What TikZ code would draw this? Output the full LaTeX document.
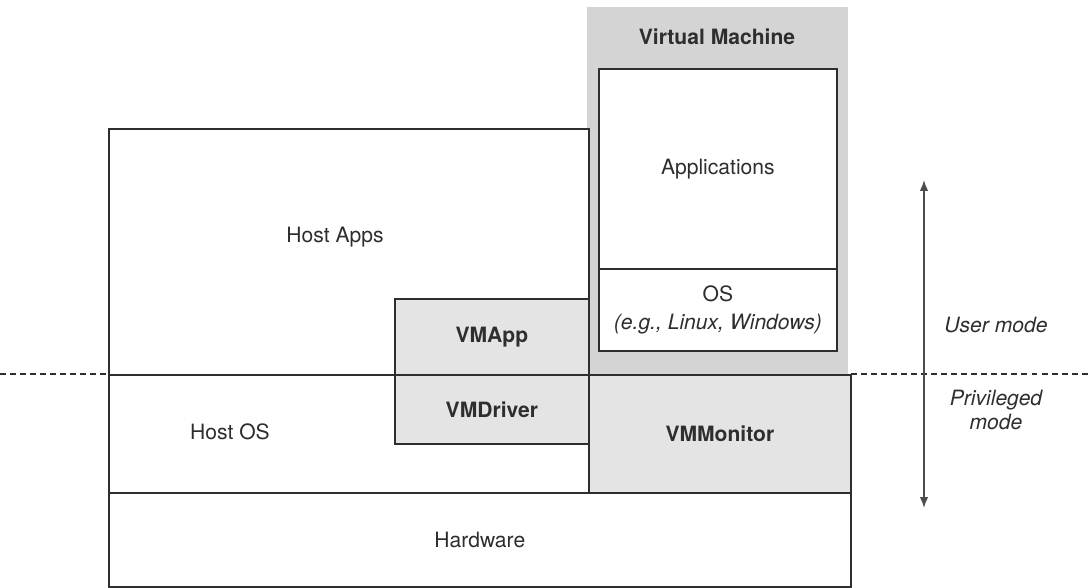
\documentclass[tikz,border=0pt]{standalone}
\usepackage{fontspec}
\setmainfont{TeX Gyre Heros}
\usepackage{xcolor}
\usetikzlibrary{arrows.meta, positioning}

\definecolor{ink}{HTML}{2E2E2E}
\definecolor{vmgray}{HTML}{D4D4D4}
\definecolor{vmlight}{HTML}{E4E4E4}

\begin{document}
\begin{tikzpicture}[
    x=0.02cm, y=-0.02cm,
    font=\fontsize{12}{16}\selectfont, text=ink,
    box/.style={rectangle, anchor=north west, inner sep=0pt, draw=ink, line width=1pt, fill=white, align=center},
    vmpart/.style={box, fill=vmlight},
    modearrow/.style={{Latex[length=2.2mm,width=1.7mm]}-{Latex[length=2.2mm,width=1.7mm]}, draw=ink!85, line width=0.8pt},
    modeline/.style={draw=ink, line width=1.3pt, dash pattern=on 3.4pt off 2.3pt}
]
\useasboundingbox (0,0) rectangle (1089,588);

% mode boundary
\coordinate (lineleft) at (0,374);
\coordinate (lineright) at (1089,374);
\draw[modeline] (lineleft) -- (lineright);

% virtual machine
\node[rectangle, anchor=north west, inner sep=0pt, fill=vmgray, minimum width=5.22cm, minimum height=7.34cm] (vm) at (587,7) {};
\node[font=\fontsize{12}{16}\selectfont\bfseries] (vmtitle) at (717,37) {Virtual Machine};
\node[box, minimum width=4.76cm, minimum height=4cm] (apps) at (598,68) {Applications};
\node[box, minimum width=4.76cm, minimum height=1.64cm] (guestos) at (598,268) {OS\\\textit{(e.g., Linux, Windows)}};

% host side
\node[box, minimum width=9.6cm, minimum height=4.92cm] (hostapps) at (108,128) {};
\node (hostappstext) at (335,237) {Host Apps};
\node[vmpart, minimum width=3.88cm, minimum height=1.52cm, font=\fontsize{12}{16}\selectfont\bfseries] (vmapp) at (394,298) {VMApp};
\node[box, minimum width=9.6cm, minimum height=2.36cm] (hostos) at (108,374) {};
\node (hostostext) at (230,432) {Host OS};
\node[vmpart, minimum width=3.88cm, minimum height=1.38cm, font=\fontsize{12}{16}\selectfont\bfseries] (vmdriver) at (394,374) {VMDriver};
\node[vmpart, minimum width=5.24cm, minimum height=2.36cm, font=\fontsize{12}{16}\selectfont\bfseries] (vmmonitor) at (588,374) {VMMonitor};
\node[box, minimum width=14.84cm, minimum height=1.88cm] (hardware) at (108,492) {Hardware};

% modes
\coordinate (arrowtop) at (924,180);
\coordinate (arrowbot) at (924,508);
\draw[modearrow] (arrowtop) -- (arrowbot);
\node[font=\fontsize{12}{16}\selectfont\itshape] (usermode) at (996,325) {User mode};
\node[font=\fontsize{12}{14}\selectfont\itshape, align=center] (privmode) at (996,410) {Privileged\\mode};

\end{tikzpicture}
\end{document}
